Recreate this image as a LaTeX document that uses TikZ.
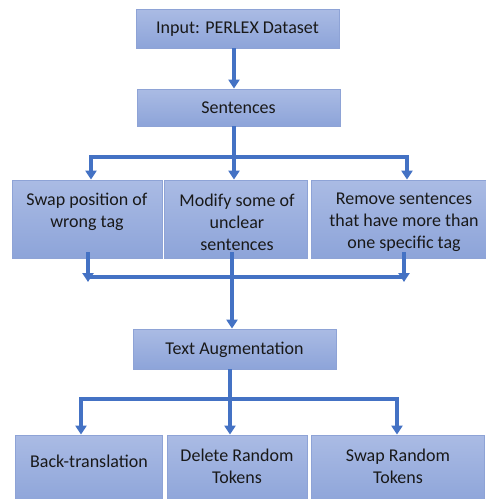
\documentclass[tikz,border=0pt]{standalone}
\usepackage{fontspec}
\setmainfont{Carlito}
\usetikzlibrary{arrows.meta}
\definecolor{lineblue}{HTML}{4472C4}
\definecolor{boxtop}{HTML}{AABBE4}
\definecolor{boxbot}{HTML}{8DA4D9}
\definecolor{boxedge}{HTML}{8EA3D6}
\tikzset{
  box/.style={draw=boxedge, line width=0.8pt, top color=boxtop, bottom color=boxbot, minimum height=#1, inner sep=0pt},
  txt/.style={align=center, font=\fontsize{18pt}{22pt}\selectfont, text=black!90, inner sep=0pt},
  conn/.style={draw=lineblue, line width=3.6pt},
  arr/.style={conn, -{Triangle[width=11pt,length=9pt]}}
}
\begin{document}
\begin{tikzpicture}[x=1pt,y=-1pt]
\useasboundingbox (0,0) rectangle (486,499);
\begin{scope}
\clip (0,0) rectangle (486,499);
% boxes
\node[box=39pt, minimum width=203pt] (b1) at (237.5,28.5) {};
\node[box=37pt, minimum width=203pt] (b2) at (238.5,107.5) {};
\node[box=78pt, minimum width=150pt] (s1) at (87,219) {};
\node[box=78pt, minimum width=143pt] (s2) at (235.5,219) {};
\node[box=78pt, minimum width=176pt] (s3) at (399,219) {};
\node[box=40pt, minimum width=203pt] (ta) at (234.5,349) {};
\node[box=70pt, minimum width=147pt] (t1) at (88.5,470) {};
\node[box=70pt, minimum width=140pt] (t2) at (237,470) {};
\node[box=70pt, minimum width=173pt] (t3) at (397.5,470) {};
\end{scope}
% texts
\node[txt] at (237.5,29) {Input: PERLEX Dataset};
\node[txt] at (238.5,108) {Sentences};
\node[txt] at (87,212) {Swap position of\\wrong tag};
\node[txt] at (237,222) {Modify some of\\unclear\\sentences};
\node[txt] at (404,222) {Remove sentences\\that have more than\\one specific tag};
\node[txt] at (234.5,350) {Text Augmentation};
\node[txt] at (89,461) {Back-translation};
\node[txt] at (237,466) {Delete Random\\Tokens};
\node[txt] at (398,466) {Swap Random\\Tokens};
% x positions
\coordinate (xa) at (234,0);
\coordinate (xl) at (91,0);
\coordinate (xr) at (407,0);
\coordinate (xl2) at (88,0);
\coordinate (xm2) at (232,0);
\coordinate (xr2) at (404,0);
\coordinate (xl3) at (81,0);
\coordinate (xm3) at (230,0);
\coordinate (xr3) at (397,0);
\coordinate (h1) at (0,157);
\coordinate (h2) at (0,277);
\coordinate (h3) at (0,399);
% connectors
\draw[arr] (xa |- b1.south) -- (xa |- b2.north);
\draw[conn] (xa |- b2.south) -- (xa |- h1);
\draw[conn] ([xshift=-1.8pt]xl |- h1) -- ([xshift=1.8pt]xr |- h1);
\draw[arr] ([yshift=1.8pt]xl |- h1) -- (xl |- s1.north);
\draw[arr] (xa |- h1) -- (xa |- s2.north);
\draw[arr] ([yshift=1.8pt]xr |- h1) -- (xr |- s3.north);
\draw[conn] (xl2 |- h2) -- (xr2 |- h2);
\draw[arr] ([yshift=6pt]xl2 |- s1.south) -- ([yshift=-5pt]xl2 |- h2);
\draw[arr] ([yshift=6pt]xr2 |- s3.south) -- ([yshift=-5pt]xr2 |- h2);
\draw[arr] ([yshift=6pt]xm2 |- s2.south) -- (xm2 |- ta.north);
\draw[conn] (xm3 |- ta.south) -- (xm3 |- h3);
\draw[conn] ([xshift=-1.8pt]xl3 |- h3) -- ([xshift=1.8pt]xr3 |- h3);
\draw[arr] ([yshift=1.8pt]xl3 |- h3) -- (xl3 |- t1.north);
\draw[arr] (xm3 |- h3) -- (xm3 |- t2.north);
\draw[arr] ([yshift=1.8pt]xr3 |- h3) -- (xr3 |- t3.north);
\end{tikzpicture}
\end{document}
